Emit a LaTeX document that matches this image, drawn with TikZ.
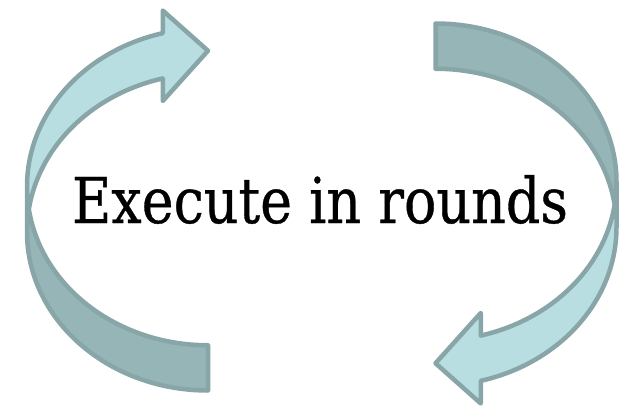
\documentclass[tikz,border=0pt]{standalone}
\usepackage{fontspec}
\setmainfont{DejaVu Serif}
\newfontfamily\titlefont[FakeBold=0.6]{DejaVu Serif}
\usepackage{graphicx}
\definecolor{lightfill}{RGB}{184,222,226}
\definecolor{darkfill}{RGB}{150,181,183}
\definecolor{edgecol}{RGB}{136,165,168}
\tikzset{
  frontpart/.style={fill=lightfill},
  backpart/.style={fill=darkfill},
  arrowoutline/.style={draw=edgecol, line width=4.5pt, line join=round},
  titletext/.style={inner sep=0pt, anchor=base, text=black},
  ell/.style={x radius=181pt, y radius=158.56pt}
}
\newcommand{\drawcurvedarrow}{%
  \fill[backpart] (208,59.75) arc[ell, start angle=270, end angle=180]
    -- (27,173.06) arc[ell, start angle=180, end angle=270] -- cycle;
  \fill[frontpart] (27,173.06) arc[ell, start angle=180, end angle=104.48]
    -- (162.75,303.97) -- (208,354.25) -- (162.75,394.47) -- (162.75,371.84)
    arc[ell, start angle=104.48, end angle=180] -- cycle;
  \draw[arrowoutline] (27,173.06) arc[ell, start angle=180, end angle=104.48]
    -- (162.75,303.97) -- (208,354.25) -- (162.75,394.47) -- (162.75,371.84)
    arc[ell, start angle=104.48, end angle=180] -- (27,173.06)
    arc[ell, start angle=180, end angle=270] -- (208,59.75)
    arc[ell, start angle=270, end angle=188.2];
}
\begin{document}
\begin{tikzpicture}[x=1pt,y=1pt]
\useasboundingbox (0,0) rectangle (631,405);
\drawcurvedarrow
\begin{scope}[rotate around={180:(321.75,198)}]
\drawcurvedarrow
\end{scope}
\node[titletext] (title) at (320,182) {\resizebox{496pt}{48pt}{\titlefont\fontsize{60pt}{60pt}\selectfont Execute in rounds}};
\end{tikzpicture}
\end{document}
